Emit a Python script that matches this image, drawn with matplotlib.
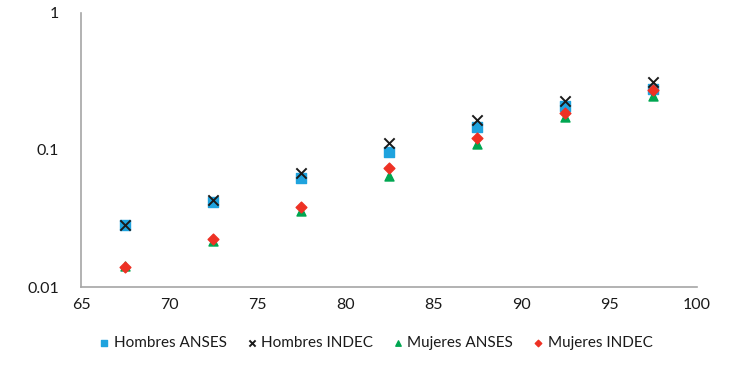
import matplotlib
matplotlib.use("Agg")
import matplotlib.pyplot as plt
from matplotlib.ticker import FixedLocator, NullLocator

plt.rcParams['font.family'] = ['Lato', 'DejaVu Sans']

edades = [67.5, 72.5, 77.5, 82.5, 87.5, 92.5, 97.5]
hombres_anses = [0.0284, 0.0420, 0.0628, 0.096, 0.148, 0.2095, 0.277]
hombres_indec = [0.0284, 0.0432, 0.0676, 0.112, 0.1656, 0.229, 0.315]
mujeres_anses = [0.0143, 0.0218, 0.0361, 0.0646, 0.1106, 0.173, 0.248]
mujeres_indec = [0.0141, 0.0224, 0.0386, 0.0743, 0.122, 0.185, 0.274]

x_ticks = [65, 70, 75, 80, 85, 90, 95, 100]
y_ticks = [0.01, 0.1, 1]
y_labels = ['0.01', '0.1', '1']

fig = plt.figure(figsize=(7.44, 3.69), dpi=100)
ax = fig.add_axes([0.109, 0.222, 0.828, 0.743])

ax.scatter(edades, hombres_anses, marker='s', s=42, color='#1FA3DE', label='Hombres ANSES', zorder=3)
ax.scatter(edades, hombres_indec, marker='x', s=55, color='#1a1a1a', linewidths=1.4, label='Hombres INDEC', zorder=4)
ax.scatter(edades, mujeres_anses, marker='^', s=42, color='#00A651', label='Mujeres ANSES', zorder=3)
ax.scatter(edades, mujeres_indec, marker='D', s=30, color='#EE3124', label='Mujeres INDEC', zorder=4)

ax.set_yscale('log')
ax.set_xlim(65, 100)
ax.set_ylim(0.01, 1)
ax.xaxis.set_major_locator(FixedLocator(x_ticks))
ax.set_xticklabels([str(v) for v in x_ticks])
ax.yaxis.set_major_locator(FixedLocator(y_ticks))
ax.yaxis.set_minor_locator(NullLocator())
ax.set_yticklabels(y_labels)
ax.tick_params(axis='both', length=0, labelsize=11.5, colors='#1a1a1a')
ax.tick_params(axis='y', pad=16)
ax.tick_params(axis='x', pad=8)

for s in ['top', 'right']:
    ax.spines[s].set_visible(False)
for s in ['left', 'bottom']:
    ax.spines[s].set_color('#A6A6A6')
    ax.spines[s].set_linewidth(1.2)

leg = fig.legend(loc='center', bbox_to_anchor=(0.505, 0.07), ncol=4, frameon=False,
                 fontsize=11, handlelength=0.7, handletextpad=0.25,
                 columnspacing=1.3, markerscale=0.6)
for t in leg.get_texts():
    t.set_color('#1a1a1a')

fig.savefig('out.png', dpi=100)
